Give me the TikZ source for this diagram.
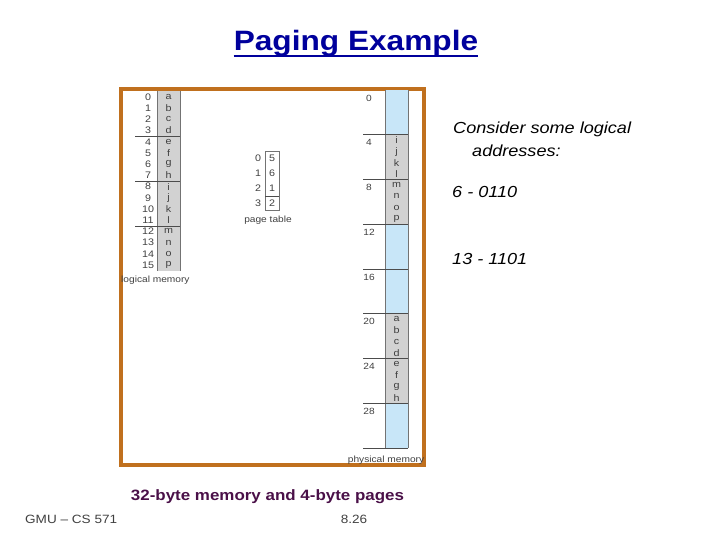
\documentclass[tikz,border=0pt]{standalone}
\usepackage{fontspec}
\setmainfont{Liberation Sans}[FakeStretch=1.13]
\usetikzlibrary{positioning}
\definecolor{frameorange}{HTML}{C0701E}
\definecolor{cellgray}{HTML}{D2D2D2}
\definecolor{cellblue}{HTML}{C8E6F8}
\definecolor{titleblue}{HTML}{00009C}
\definecolor{captionpurple}{HTML}{4A1048}
\definecolor{labelgray}{HTML}{404040}

\begin{document}
\begin{tikzpicture}[x=1pt,y=-1pt,
  tiny/.style={font=\fontsize{9}{10}\selectfont,text=labelgray,inner sep=0pt},
  cell/.style={font=\fontsize{9.5}{10}\selectfont,text=labelgray,inner sep=0pt},
  note/.style={font=\fontsize{16}{18}\selectfont\itshape,anchor=base west,inner sep=0pt},
  sep/.style={draw=black!70,line width=0.6pt},
  edge/.style={draw=black!55,line width=0.6pt}]
\useasboundingbox (0,0) rectangle (720,540);
% title
\node[font=\fontsize{28}{32}\selectfont\bfseries,text=titleblue,anchor=base,inner sep=0pt] (title) at (356,51) {Paging Example};
\draw[titleblue,line width=1.8pt] ([yshift=-5pt]title.base west) -- ([yshift=-5pt]title.base east);
% frame round the figure
\draw[frameorange,line width=4pt] (121,89) rectangle (424,465);
% logical memory
\fill[cellgray] (157,91) rectangle (180,271);
\draw[edge] (157,91) -- (157,271) (180,91) -- (180,271);
\foreach \i/\c in {0/a,1/b,2/c,3/d,4/e,5/f,6/g,7/h,8/i,9/j,10/k,11/l,12/m,13/n,14/o,15/p} {
  \node[cell] (laddr\i) at (148,{97+\i*11.2}) {\i};
  \node[cell] (lbyte\i) at (168.5,{97+\i*11.2}) {\c};
}
\foreach \y in {136.2,181,226} \draw[sep] (135,\y) -- (180,\y);
\node[tiny,anchor=west] (loglabel) at (121,280) {logical memory};
% page table
\draw[edge] (265,151) rectangle (279,210);
\draw[sep] (265,196) -- (279,196);
\foreach \i/\f in {0/5,1/6,2/1,3/2} {
  \node[cell] (ppage\i) at (258,{158+\i*15}) {\i};
  \node[cell] (pframe\i) at (272,{158+\i*15}) {\f};
}
\node[tiny] (ptlabel) at (268,220) {page table};
% physical memory
\fill[cellblue] (385,90) rectangle (408,448);
\foreach \k in {1,2,5,6} \fill[cellgray] (385,{90+44.75*\k}) rectangle (408,{90+44.75*(\k+1)});
\draw[edge] (385,90) -- (385,448) (408,90) -- (408,448);
\foreach \k in {1,...,8} \draw[sep] (363,{90+44.75*\k}) -- (408,{90+44.75*\k});
\foreach \k [evaluate=\k as \a using int(4*\k)] in {0,...,7}
  \node[tiny] (faddr\k) at (369,{98+44.75*\k}) {\a};
\foreach \c [count=\n from 0] in {i,j,k,l,m,n,o,p}
  \node[cell] (fhi\n) at (396.5,{140.35+\n*11.2}) {\c};
\foreach \c [count=\n from 0] in {a,b,c,d,e,f,g,h}
  \node[cell] (flo\n) at (396.5,{319.35+\n*11.2}) {\c};
\node[tiny] (phylabel) at (386,460) {physical memory};
% notes on the right
\node[note] (note1) at (453,134) {Consider some logical};
\node[note] (note2) at (472,157) {addresses:};
\node[note] (addr6) at (452,198) {6 - 0110};
\node[note] (addr13) at (452,264) {13 - 1101};
% caption and footer
\node[font=\fontsize{15}{18}\selectfont\bfseries,text=captionpurple,anchor=base,inner sep=0pt] (caption) at (267.5,500) {32-byte memory and 4-byte pages};
\node[font=\fontsize{12}{14}\selectfont,text=black!75,anchor=base west,inner sep=0pt] (footer) at (25,523) {GMU – CS 571};
\node[font=\fontsize{12}{14}\selectfont,text=black!75,anchor=base,inner sep=0pt] (pagenum) at (354,523) {8.26};
\end{tikzpicture}
\end{document}
